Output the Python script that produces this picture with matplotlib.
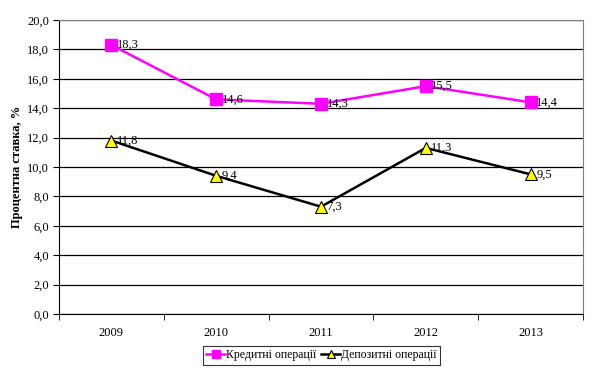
import matplotlib.pyplot as plt

years = ["2009", "2010", "2011", "2012", "2013"]
credit = [18.3, 14.6, 14.3, 15.5, 14.4]
deposit = [11.8, 9.4, 7.3, 11.3, 9.5]

plt.rcParams['font.family'] = ['Liberation Serif', 'DejaVu Serif']

fig = plt.figure(figsize=(5.93, 3.69), dpi=100)
ax = fig.add_axes([59 / 593, 1 - 314 / 369, 524 / 593, 294 / 369])

x = list(range(len(years)))
ax.plot(x, credit, color="#ff00ff", lw=1.8, marker="s", ms=8,
        mfc="#ff00ff", mec="#ff00ff", label="Кредитні операції", zorder=3)
ax.plot(x, deposit, color="black", lw=1.8, marker="^", ms=9,
        mfc="#ffff00", mec="black", mew=0.8, label="Депозитні операції", zorder=3)

for xi, v in zip(x, credit):
    ax.annotate(f"{v:.1f}".replace(".", ","), (xi, v), xytext=(4, 0),
                textcoords="offset points", va="center", ha="left", fontsize=9)
for xi, v in zip(x, deposit):
    ax.annotate(f"{v:.1f}".replace(".", ","), (xi, v), xytext=(4, 0),
                textcoords="offset points", va="center", ha="left", fontsize=9)

ax.set_xlim(-0.5, len(years) - 0.5)
ax.set_ylim(0, 20)
ax.set_yticks([i * 2 for i in range(11)])
ax.set_yticklabels([f"{i * 2:.1f}".replace(".", ",") for i in range(11)], fontsize=9)
ax.set_xticks(x)
ax.set_xticklabels(years, fontsize=9)
ax.set_xticks([i - 0.5 for i in range(len(years) + 1)], minor=True)
ax.tick_params(axis="x", which="major", length=0, pad=9)
ax.tick_params(axis="x", which="minor", length=4, direction="out", color="black")
ax.tick_params(axis="y", length=4, direction="out", color="black", pad=3)
ax.grid(axis="y", color="black", lw=0.9)
ax.set_axisbelow(True)

for s in ["top", "right"]:
    ax.spines[s].set_color("#808080")
for s in ["left", "bottom"]:
    ax.spines[s].set_color("black")

ax.set_ylabel("Процентна ставка, %", fontsize=9, fontweight="bold", labelpad=3)

leg = fig.legend(loc="lower center", bbox_to_anchor=(0.542, 0.005), ncol=2,
                 fontsize=8.5, frameon=True, fancybox=False, edgecolor="black",
                 handlelength=1.6, handletextpad=0.1, columnspacing=0.4,
                 borderpad=0.3, borderaxespad=0.2, markerscale=0.7)
leg.get_frame().set_linewidth(0.8)

fig.savefig("out.png", dpi=100)
